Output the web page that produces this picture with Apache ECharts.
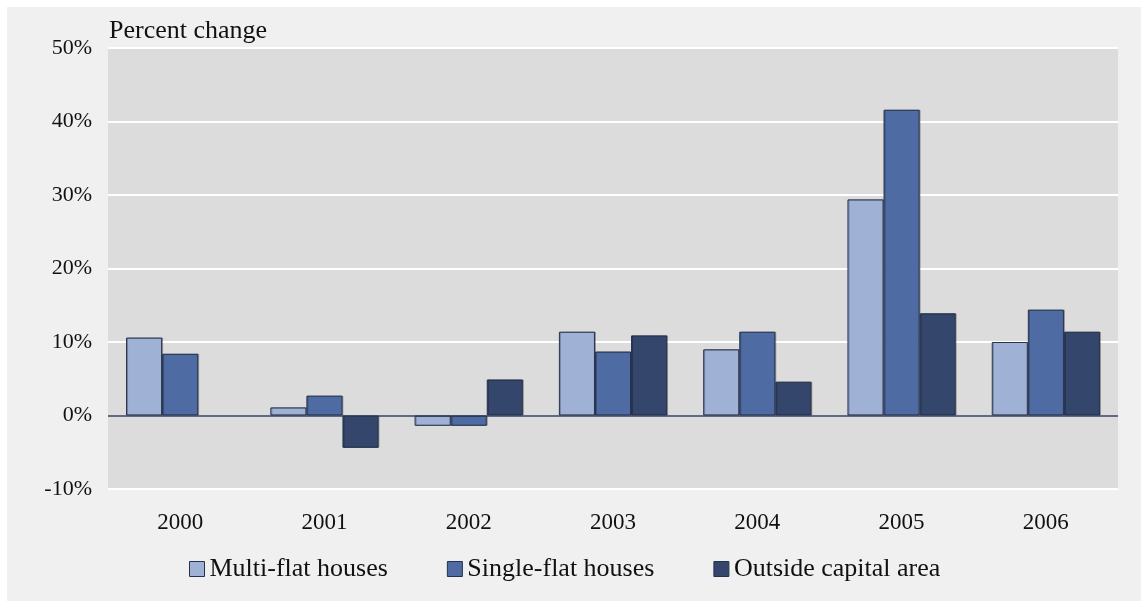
<!DOCTYPE html>
<html>
<head>
<meta charset="utf-8">
<script src="https://cdn.jsdelivr.net/npm/echarts@6/dist/echarts.min.js"></script>
<style>
  html, body { margin: 0; padding: 0; background: #ffffff; }
  #chart { position: absolute; left: 7px; top: 7px; width: 1134px; height: 594px; background: #f0f0f0; }
</style>
</head>
<body>
<div id="chart"></div>
<script>
// categories and values (percent change)
var years = ['2000', '2001', '2002', '2003', '2004', '2005', '2006'];
var multiFlat = [10.6, 1.1, -1.4, 11.4, 9.0, 29.4, 10.0];
var singleFlat = [8.4, 2.7, -1.4, 8.7, 11.4, 41.6, 14.4];
var outsideCapital = [null, -4.4, 4.9, 10.9, 4.6, 13.9, 11.4];
var seriesNames = ['Multi-flat houses', 'Single-flat houses', 'Outside capital area'];
var yTicks = { min: -10, max: 50, step: 10 };

var font = '"Liberation Serif", "DejaVu Serif", serif';
var colors = ['#9fb1d5', '#4e6ca3', '#34466b'];

var chart = echarts.init(document.getElementById('chart'), null, { renderer: 'canvas' });

function barSeries(name, data, i) {
  var s = {
    name: name,
    type: 'bar',
    data: data,
    barGap: '0%',
    barCategoryGap: '25%',
    itemStyle: {
      color: colors[i],
      borderColor: '#26324d',
      borderWidth: 1,
      shadowColor: 'rgba(0,0,0,0.25)',
      shadowOffsetX: 1,
      shadowOffsetY: 0,
      shadowBlur: 0
    },
    emphasis: { disabled: true }
  };
  if (i === 0) {
    // zero line across the plot
    s.markLine = {
      silent: true,
      symbol: 'none',
      label: { show: false },
      lineStyle: { color: '#2b3856', width: 1.5, type: 'solid' },
      data: [{ yAxis: 0 }]
    };
  }
  return s;
}

var option = {
  animation: false,
  color: colors,
  title: {
    text: 'Percent change',
    left: 97,
    top: 6,
    textStyle: { fontFamily: font, fontSize: 26, fontWeight: 'normal', color: '#111' }
  },
  grid: {
    left: 101, right: 23, top: 41, bottom: 112,
    show: true, backgroundColor: '#dcdcdc', borderWidth: 0
  },
  legend: {
    data: seriesNames,
    top: 544,
    left: 177,
    itemWidth: 15,
    itemHeight: 15,
    itemGap: 59,
    icon: 'rect',
    textStyle: { fontFamily: font, fontSize: 26, color: '#111' },
    itemStyle: { borderColor: '#26324d', borderWidth: 1 }
  },
  xAxis: {
    type: 'category',
    data: years,
    axisLine: { show: false, onZero: false },
    axisTick: { show: false },
    axisLabel: { fontFamily: font, fontSize: 23, color: '#111', margin: 22 },
    splitLine: { show: false }
  },
  yAxis: {
    type: 'value',
    min: yTicks.min,
    max: yTicks.max,
    interval: yTicks.step,
    axisLine: { show: false },
    axisTick: { show: false },
    axisLabel: { fontFamily: font, fontSize: 22, color: '#111', margin: 16,
      formatter: function (v) { return v + '%'; } },
    splitLine: { lineStyle: { color: '#ffffff', width: 2 } }
  },
  series: [
    barSeries(seriesNames[0], multiFlat, 0),
    barSeries(seriesNames[1], singleFlat, 1),
    barSeries(seriesNames[2], outsideCapital, 2)
  ]
};

chart.setOption(option);
</script>
</body>
</html>
